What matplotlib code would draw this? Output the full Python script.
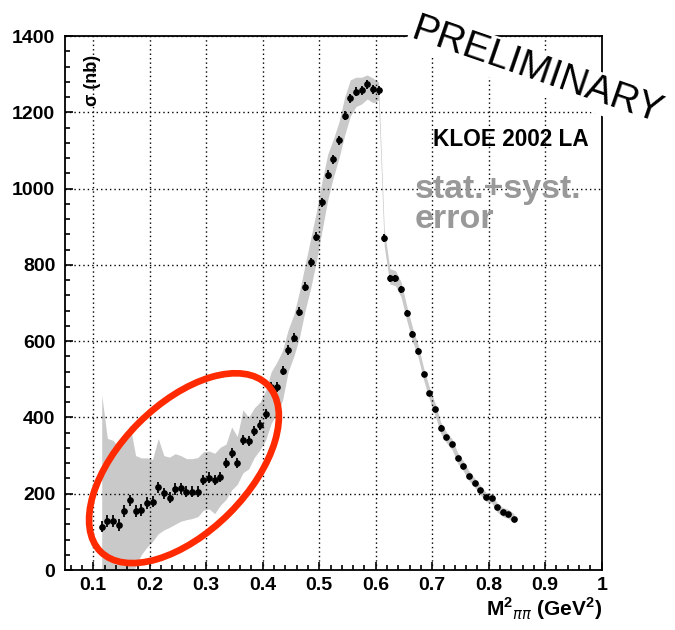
import numpy as np
import matplotlib
matplotlib.use("Agg")
import matplotlib.pyplot as plt
from matplotlib.patches import Ellipse
from matplotlib import transforms
from matplotlib.ticker import MultipleLocator, FormatStrFormatter

plt.rcParams['font.family'] = ['Liberation Sans', 'DejaVu Sans']
plt.rcParams['mathtext.fontset'] = 'custom'
plt.rcParams['mathtext.rm'] = 'Liberation Sans'
plt.rcParams['mathtext.bf'] = 'Liberation Sans:bold'

# bin centres, M^2_pipi (GeV^2)
m2 = [0.115, 0.125, 0.135, 0.145, 0.155, 0.165, 0.175, 0.185, 0.195, 0.205,
      0.215, 0.225, 0.235, 0.245, 0.255, 0.265, 0.275, 0.285, 0.295, 0.305,
      0.315, 0.325, 0.335, 0.345, 0.355, 0.365, 0.375, 0.385, 0.395, 0.405,
      0.415, 0.425, 0.435, 0.445, 0.455, 0.465, 0.475, 0.485, 0.495, 0.505,
      0.515, 0.525, 0.535, 0.545, 0.555, 0.565, 0.575, 0.585, 0.595, 0.605,
      0.615, 0.625, 0.635, 0.645, 0.655, 0.665, 0.675, 0.685, 0.695, 0.705,
      0.715, 0.725, 0.735, 0.745, 0.755, 0.765, 0.775, 0.785, 0.795, 0.805,
      0.815, 0.825, 0.835, 0.845]

# cross section (nb)
sigma = [114, 129, 128, 118, 155, 183, 155, 157, 176, 179,
         217, 201, 190, 212, 214, 205, 205, 205, 236, 242,
         236, 245, 280, 306, 281, 341, 338, 364, 381, 409,
         480, 480, 522, 577, 609, 677, 743, 807, 874, 964,
         1036, 1077, 1127, 1191, 1237, 1254, 1258, 1273, 1260, 1258,
         871, 765, 765, 736, 673, 618, 574, 513, 463, 422,
         373, 348, 330, 294, 273, 247, 229, 210, 192, 188,
         164, 152, 147, 135]

# statistical error (nb)
stat_err = [15, 15, 15, 15, 15, 15, 15, 15, 15, 15,
            15, 15, 15, 15, 14, 14, 14, 14, 14, 14,
            13, 13, 13, 13, 13, 13, 13, 13, 13, 13,
            12, 12, 12, 12, 12, 12, 12, 12, 12, 12,
            12, 12, 12, 12, 12, 12, 12, 12, 12, 12,
            10, 9, 9, 9, 8, 8, 7, 7, 7, 6,
            6, 6, 6, 5, 5, 5, 5, 5, 5, 5,
            5, 5, 5, 5]

# stat.+syst. band edges (nb)
band_hi = [459, 345, 340, 322, 350, 380, 300, 294, 294, 290,
           345, 300, 296, 305, 300, 292, 292, 295, 310, 312,
           306, 322, 330, 375, 350, 420, 400, 425, 440, 470,
           520, 545, 575, 630, 670, 730, 800, 870, 940, 1020,
           1090, 1130, 1175, 1240, 1285, 1292, 1292, 1298, 1290, 1280,
           895, 790, 785, 755, 692, 636, 590, 529, 479, 438,
           388, 362, 344, 308, 286, 260, 241, 222, 204, 200,
           176, 164, 159, 147]
band_lo = [-60, -60, -60, -60, -60, -20, 10, 40, 60, 75,
           95, 105, 112, 120, 128, 132, 135, 140, 157, 160,
           148, 170, 185, 210, 225, 255, 265, 295, 315, 340,
           385, 410, 445, 520, 560, 610, 680, 740, 810, 890,
           970, 1030, 1080, 1140, 1190, 1215, 1222, 1235, 1225, 1232,
           850, 750, 745, 715, 654, 600, 558, 497, 447, 406,
           358, 334, 316, 280, 260, 234, 217, 198, 180, 176,
           152, 140, 135, 123]

x_ticks = [0.1, 0.2, 0.3, 0.4, 0.5, 0.6, 0.7, 0.8, 0.9, 1.0]
y_ticks = [0, 200, 400, 600, 800, 1000, 1200, 1400]

fig = plt.figure(figsize=(6.75, 6.3), dpi=100)
ax = fig.add_axes([0.0963, 0.0952, 0.7951, 0.8476])

ax.fill_between(m2, band_lo, band_hi, color='#c9c9c9', lw=0, zorder=1)
ax.errorbar(m2, sigma, yerr=stat_err, fmt='o', color='black', ms=3.8,
            elinewidth=1.3, capsize=0, zorder=3)

ax.set_xlim(0.05, 1.0)
ax.set_ylim(0, 1400)
ax.set_xticks(x_ticks)
ax.set_yticks(y_ticks)
ax.xaxis.set_minor_locator(MultipleLocator(0.02))
ax.yaxis.set_minor_locator(MultipleLocator(40))
ax.xaxis.set_major_formatter(FormatStrFormatter('%g'))
ax.tick_params(which='both', direction='in', top=False, right=False, width=1.2)
ax.tick_params(which='major', length=6)
ax.tick_params(which='minor', length=3.5)
ax.tick_params(axis='x', which='major', labelsize=14, pad=5)
ax.tick_params(axis='y', which='major', labelsize=14, pad=7)
for lab in ax.get_xticklabels() + ax.get_yticklabels():
    lab.set_fontweight('bold')
for s in ax.spines.values():
    s.set_linewidth(1.3)
ax.grid(True, which='major', color='black', linestyle=(0, (1, 2.2)), lw=1.0)
ax.set_axisbelow(False)

# axis titles
ax.text(0.052, 0.965, 'σ (nb)', transform=ax.transAxes, rotation=90,
        ha='center', va='top', fontsize=13, fontweight='bold')
ax.text(1.0, -0.072, r'M$^{\mathbf{2}}$$_{\pi\pi}$ (GeV$^{\mathbf{2}}$)',
        transform=ax.transAxes, ha='right', va='center', fontsize=15,
        fontweight='bold')

ax.text(0.686, 0.807, 'KLOE 2002 LA', transform=ax.transAxes, ha='left',
        va='center', fontsize=16.3, fontweight='bold', zorder=5)
ax.text(0.652, 0.685, 'stat.+syst.\nerror', transform=ax.transAxes, ha='left',
        va='center', fontsize=24.5, fontweight='bold', color='#999999',
        linespacing=0.95, zorder=5)

# red ellipse around the low-mass region
ctr = transforms.ScaledTranslation(0.2606, 267, ax.transData)
ax.add_patch(Ellipse((0, 0), 2.36, 1.28, angle=45, fill=False,
                     edgecolor='#ff2a00', lw=4.8, zorder=6,
                     transform=fig.dpi_scale_trans + ctr, clip_on=False))

fig.text(0.796, 0.886, 'PRELIMINARY', rotation=-19, rotation_mode='anchor',
         ha='center', va='center', fontsize=28, zorder=10,
         bbox=dict(facecolor='white', edgecolor='none', pad=2))

fig.savefig('out.png', dpi=100)
